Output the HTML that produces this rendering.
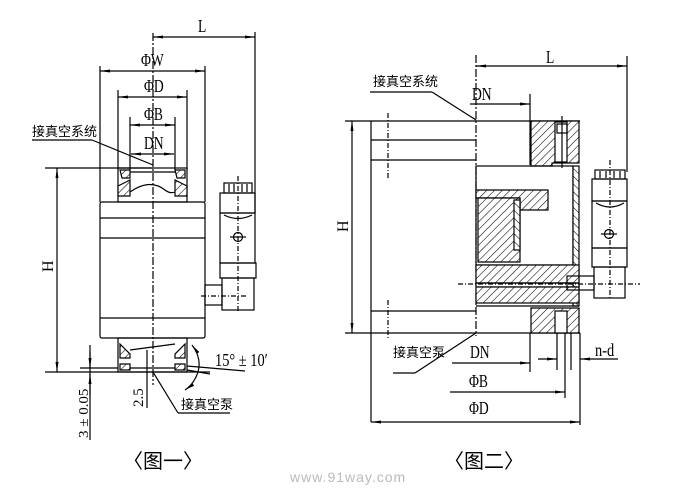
<!DOCTYPE html>
<html><head><meta charset="utf-8">
<style>
html,body{margin:0;padding:0;background:#fff;}
svg{display:block;}
text{font-family:"Liberation Serif","Noto Serif CJK SC",serif;fill:#000;}
.cn{font-family:"Liberation Sans","Noto Sans CJK SC",sans-serif;}
</style></head><body>
<svg width="697" height="491" viewBox="0 0 697 491" xmlns="http://www.w3.org/2000/svg">
<defs>
<pattern id="h" width="5.5" height="5.5" patternUnits="userSpaceOnUse" patternTransform="rotate(45)">
<rect width="5.5" height="5.5" fill="#fff"/><line x1="0" y1="0" x2="0" y2="5.5" stroke="#000" stroke-width="1.1"/></pattern>
<pattern id="h2" width="5.5" height="5.5" patternUnits="userSpaceOnUse" patternTransform="rotate(-45)">
<rect width="5.5" height="5.5" fill="#fff"/><line x1="0" y1="0" x2="0" y2="5.5" stroke="#000" stroke-width="1.1"/></pattern>
<marker id="a" markerWidth="10" markerHeight="6" refX="10" refY="3" orient="auto-start-reverse" markerUnits="userSpaceOnUse">
<path d="M0,1.5 L10,3 L0,4.5z" fill="#000"/></marker>
</defs>
<g stroke="#000" stroke-width="1.2" fill="none">
<!-- ===== Figure 1 ===== -->
<line x1="153" y1="33" x2="153" y2="385" stroke-dasharray="8,2,2,2"/>
<line x1="153" y1="37" x2="255" y2="37" marker-start="url(#a)" marker-end="url(#a)"/>
<line x1="255" y1="32" x2="255" y2="213"/>
<line x1="100" y1="66" x2="100" y2="202"/><line x1="205" y1="66" x2="205" y2="202"/>
<line x1="100" y1="71" x2="205" y2="71" marker-start="url(#a)" marker-end="url(#a)"/>
<line x1="118" y1="90" x2="118" y2="170"/><line x1="187" y1="90" x2="187" y2="170"/>
<line x1="118" y1="97" x2="187" y2="97" marker-start="url(#a)" marker-end="url(#a)"/>
<line x1="130" y1="117" x2="130" y2="170"/><line x1="175" y1="117" x2="175" y2="170"/>
<line x1="130" y1="125" x2="175" y2="125" marker-start="url(#a)" marker-end="url(#a)"/>
<line x1="131" y1="154" x2="174" y2="154" marker-start="url(#a)" marker-end="url(#a)"/>
<line x1="32" y1="140" x2="92" y2="140"/><line x1="92" y1="140" x2="153" y2="165"/>
<line x1="45" y1="168" x2="153" y2="168"/>
<line x1="57" y1="168" x2="57" y2="372" marker-start="url(#a)" marker-end="url(#a)"/>
<rect x="118" y="168" width="69" height="34"/>
<path d="M120,170 L130,170 L130,178 L122,178 Z M175,170 L185,170 L185,178 L177,178Z M118,186 L130,180 L130,196 L118,196Z M187,186 L175,180 L175,196 L187,196Z" fill="url(#h)"/>
<path d="M130,192 Q150,178 165,190 Q170,194 175,192"/>
<line x1="130" y1="172" x2="175" y2="172"/>
<rect x="100" y="202" width="105" height="136" rx="2"/>
<line x1="100" y1="218" x2="205" y2="218"/><line x1="100" y1="238" x2="205" y2="238"/><line x1="100" y1="318" x2="205" y2="318"/>
<rect x="118" y="338" width="69" height="34"/>
<path d="M120,344 L130,354 L130,358 L120,358Z M185,344 L175,354 L175,358 L185,358Z M120,364 L130,364 L130,370 L120,370Z M175,364 L185,364 L185,370 L175,370Z" fill="url(#h)"/>
<path d="M130,350 L175,344"/><line x1="130" y1="368" x2="175" y2="368"/>
<line x1="45" y1="372" x2="210" y2="372"/>
<path d="M192,345 Q202,358 198,372 Q194,384 185,390" marker-start="url(#a)" marker-end="url(#a)"/>
<line x1="187" y1="370" x2="210" y2="374"/><line x1="187" y1="366" x2="245" y2="371"/>
<line x1="90" y1="345" x2="90" y2="440"/>
<line x1="90" y1="352" x2="90" y2="368" marker-end="url(#a)"/><line x1="90" y1="395" x2="90" y2="374" marker-end="url(#a)"/>
<line x1="147" y1="350" x2="147" y2="408"/>
<line x1="80" y1="368" x2="118" y2="368"/>
<line x1="153" y1="372" x2="178" y2="413"/><line x1="178" y1="413" x2="230" y2="413"/>
<line x1="238" y1="176" x2="238" y2="312" stroke-dasharray="5,2,1,2"/>
<rect x="224" y="183" width="28" height="10"/>
<line x1="229" y1="184" x2="229" y2="192"/><line x1="234" y1="184" x2="234" y2="192"/><line x1="242" y1="184" x2="242" y2="192"/><line x1="247" y1="184" x2="247" y2="192"/>
<rect x="220" y="193" width="35" height="20"/>
<rect x="220" y="213" width="35" height="50"/>
<path d="M224,215 Q238,222 252,215"/>
<circle cx="238" cy="237" r="4.5"/><line x1="230" y1="237" x2="246" y2="237"/>
<rect x="220" y="263" width="36" height="15"/>
<rect x="222" y="278" width="32" height="32"/>
<rect x="205" y="285" width="17" height="20"/>
<line x1="201" y1="296" x2="246" y2="296" stroke-dasharray="5,2,1,2"/>

<!-- ===== Figure 2 ===== -->
<line x1="476" y1="55" x2="476" y2="336" stroke-dasharray="8,2,2,2"/>
<line x1="476" y1="66" x2="627" y2="66" marker-start="url(#a)" marker-end="url(#a)"/>
<line x1="627" y1="56" x2="627" y2="172"/>
<line x1="370" y1="92" x2="432" y2="92"/><line x1="432" y1="92" x2="476" y2="120"/>
<line x1="470" y1="104" x2="530" y2="104" marker-end="url(#a)"/>
<line x1="530" y1="94" x2="530" y2="165"/>
<line x1="345" y1="121" x2="580" y2="121"/>
<line x1="345" y1="333" x2="580" y2="333"/>
<line x1="352" y1="121" x2="352" y2="333" marker-start="url(#a)" marker-end="url(#a)"/>
<line x1="371" y1="121" x2="371" y2="422"/>
<line x1="371" y1="140" x2="476" y2="140"/><line x1="371" y1="160" x2="476" y2="160"/>
<line x1="371" y1="311" x2="476" y2="311"/>
<line x1="388" y1="113" x2="388" y2="178" stroke-dasharray="5,2,1,2"/>
<line x1="388" y1="300" x2="388" y2="340" stroke-dasharray="5,2,1,2"/>
<path d="M531,121 L579,121 L579,163 L552,163 L552,166 L531,166Z" fill="url(#h)"/>
<rect x="555" y="122" width="12" height="40" fill="#fff"/>
<rect x="557" y="124" width="10" height="9"/>
<line x1="562" y1="116" x2="562" y2="168"/>
<rect x="476" y="166" width="97" height="99"/>
<rect x="573" y="166" width="6" height="140" fill="url(#h2)"/>
<path d="M476,190 L548,190 L548,210 L520,210 L520,198 L476,198Z" fill="url(#h)"/>
<path d="M478,198 L520,198 L520,262 L478,262Z" fill="url(#h)"/>
<rect x="514" y="200" width="6" height="50" fill="url(#h2)"/>
<rect x="476" y="265" width="103" height="18" fill="url(#h)"/>
<line x1="476" y1="283" x2="579" y2="283"/><line x1="476" y1="287" x2="579" y2="287"/>
<rect x="476" y="287" width="103" height="16" fill="url(#h)"/>
<line x1="476" y1="306" x2="579" y2="306"/>
<path d="M531,308 L579,308 L579,333 L531,333Z" fill="url(#h)"/>
<rect x="555" y="311" width="12" height="22" fill="#fff"/>
<line x1="458" y1="284" x2="640" y2="284" stroke-dasharray="5,2,1,2"/>
<line x1="610" y1="160" x2="610" y2="300" stroke-dasharray="5,2,1,2"/>
<rect x="595" y="170" width="30" height="9"/>
<line x1="600" y1="171" x2="600" y2="178"/><line x1="606" y1="171" x2="606" y2="178"/><line x1="614" y1="171" x2="614" y2="178"/><line x1="620" y1="171" x2="620" y2="178"/>
<rect x="592" y="179" width="35" height="22"/>
<rect x="592" y="201" width="35" height="47"/>
<path d="M596,203 Q610,211 624,203"/>
<circle cx="609" cy="234" r="4.5"/><line x1="601" y1="234" x2="617" y2="234"/>
<rect x="592" y="248" width="35" height="19"/>
<rect x="594" y="267" width="31" height="31"/>
<rect x="567" y="276" width="27" height="14"/>
<line x1="415" y1="373" x2="476" y2="333"/><line x1="393" y1="373" x2="415" y2="373"/>
<line x1="452" y1="363" x2="530" y2="363" marker-end="url(#a)"/>
<line x1="530" y1="333" x2="530" y2="372"/>
<line x1="557" y1="333" x2="557" y2="370"/><line x1="565" y1="333" x2="565" y2="398"/><line x1="571" y1="333" x2="571" y2="370"/>
<line x1="538" y1="359" x2="557" y2="359" marker-end="url(#a)"/>
<line x1="618" y1="359" x2="580" y2="359" marker-end="url(#a)"/>
<line x1="580" y1="333" x2="580" y2="425"/>
<line x1="450" y1="392" x2="565" y2="392" marker-end="url(#a)"/>
<line x1="371" y1="422" x2="580" y2="422" marker-start="url(#a)" marker-end="url(#a)"/>
</g>
<g font-size="16">
<text x="198" y="32" transform="translate(198,32) scale(0.85,1.15) translate(-198,-32)">L</text>
<text x="141" y="66" transform="translate(141,66) scale(0.85,1.15) translate(-141,-66)">ΦW</text>
<text x="144" y="92" transform="translate(144,92) scale(0.85,1.15) translate(-144,-92)">ΦD</text>
<text x="144" y="120" transform="translate(144,120) scale(0.85,1.15) translate(-144,-120)">ΦB</text>
<text x="144" y="149" transform="translate(144,149) scale(0.85,1.15) translate(-144,-149)">DN</text>
<text class="cn" x="32" y="136" font-size="13">接真空系统</text>
<text x="0" y="0" transform="translate(53,272) rotate(-90)">H</text>
<text x="215" y="366" transform="translate(215,366) scale(0.9,1.15) translate(-215,-366)">15° ± 10′</text>
<text x="0" y="0" transform="translate(88,438) rotate(-90) scale(1,0.9)" font-size="15">3 ± 0.05</text>
<text x="0" y="0" transform="translate(143,407) rotate(-90)" font-size="15">2.5</text>
<text class="cn" x="181" y="409" font-size="13">接真空泵</text>
<text class="cn" x="123" y="468" font-size="20">〈图一〉</text>
<text x="546" y="63" transform="translate(546,63) scale(0.85,1.15) translate(-546,-63)">L</text>
<text class="cn" x="373" y="86" font-size="13">接真空系统</text>
<text x="472" y="100" transform="translate(472,100) scale(0.85,1.15) translate(-472,-100)">DN</text>
<text x="0" y="0" transform="translate(348,232) rotate(-90)">H</text>
<text class="cn" x="393" y="357" font-size="13">接真空泵</text>
<text x="470" y="358" transform="translate(470,358) scale(0.85,1.15) translate(-470,-358)">DN</text>
<text x="595" y="356" transform="translate(595,356) scale(0.9,1.15) translate(-595,-356)">n-d</text>
<text x="469" y="387" transform="translate(469,387) scale(0.85,1.15) translate(-469,-387)">ΦB</text>
<text x="469" y="414" transform="translate(469,414) scale(0.85,1.15) translate(-469,-414)">ΦD</text>
<text class="cn" x="444" y="468" font-size="20">〈图二〉</text>
<text x="290" y="482" font-size="14" style="fill:#bbb;font-family:'Liberation Sans',sans-serif;letter-spacing:1px">www.91way.com</text>
</g>
</svg>
</body></html>
